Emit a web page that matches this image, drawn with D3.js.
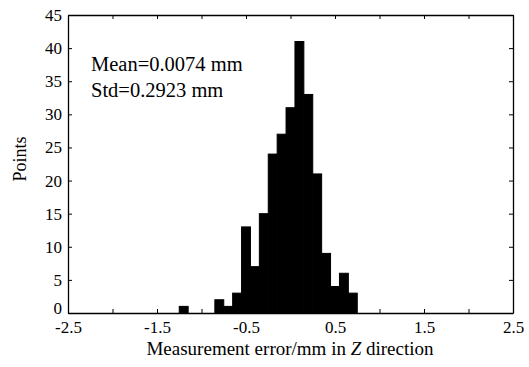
<!DOCTYPE html>
<meta charset="utf-8">
<style>
  body { margin: 0; background: #fff; }
  text { font-family: "Liberation Serif", "Times New Roman", serif; fill: #000; }
</style>
<svg id="chart" width="529" height="367"></svg>
<script src="https://cdn.jsdelivr.net/npm/d3@7/dist/d3.min.js"></script>
<script>

// histogram bins (center of bin, mm) and counts
var binCenters = [-1.2, -0.8, -0.7, -0.6, -0.5, -0.4, -0.3, -0.2, -0.1, 0.0, 0.1, 0.2, 0.3, 0.4, 0.5, 0.6, 0.7];
var counts     = [1, 2, 1, 3, 13, 7, 15, 24, 27, 31, 41, 33, 21, 9, 4, 6, 3];
var binWidth = 0.1;

var xTicks = [-2.5, -2, -1.5, -1, -0.5, 0, 0.5, 1, 1.5, 2, 2.5];
var xTickLabels = [-2.5, -1.5, -0.5, 0.5, 1.5, 2.5];
var yTicks = [0, 5, 10, 15, 20, 25, 30, 35, 40, 45];
var stats = ["Mean=0.0074 mm", "Std=0.2923 mm"];

var svg = d3.select("#chart");
var mLeft = 68, mRight = 513, mTop = 15, mBottom = 313;

var x = d3.scaleLinear().domain([-2.5, 2.5]).range([mLeft, mRight]);
var y = d3.scaleLinear().domain([0, 45]).range([mBottom, mTop]);

var bins = binCenters.map(function(c, i){ return {c: c, n: counts[i]}; });

svg.append("g").selectAll("rect")
  .data(bins)
  .enter().append("rect")
  .attr("x", function(d){ return x(d.c - binWidth/2); })
  .attr("width", function(d){ return x(d.c + binWidth/2) - x(d.c - binWidth/2); })
  .attr("y", function(d){ return y(d.n); })
  .attr("height", function(d){ return y(0) - y(d.n); })
  .attr("fill", "#000")
  .attr("stroke", "#000")
  .attr("stroke-width", 1);

// frame with inward ticks
var fmt = function(d){ return xTickLabels.indexOf(d) >= 0 ? d.toFixed(1) : ""; };

svg.append("g")
  .attr("transform", "translate(0," + mBottom + ")")
  .call(d3.axisBottom(x).tickValues(xTicks).tickSizeInner(-4).tickSizeOuter(0).tickPadding(7).tickFormat(fmt))
  .call(function(g){
    g.selectAll("text").attr("dy", "0.75em");
  });

svg.append("g")
  .attr("transform", "translate(0," + mTop + ")")
  .call(d3.axisTop(x).tickValues(xTicks).tickSizeInner(-4).tickSizeOuter(0).tickFormat(""));

svg.append("g")
  .attr("transform", "translate(" + mLeft + ",0)")
  .call(d3.axisLeft(y).tickValues(yTicks).tickSizeInner(-4).tickSizeOuter(0).tickPadding(6))
  .call(function(g){
    g.selectAll("text").filter(function(d){ return d === 0; }).attr("dy", "0.05em");
  });

svg.append("g")
  .attr("transform", "translate(" + mRight + ",0)")
  .call(d3.axisRight(y).tickValues(yTicks).tickSizeInner(-4).tickSizeOuter(0).tickFormat(""));

svg.selectAll("g").attr("font-family", null);
svg.selectAll(".domain").attr("stroke", "#000").attr("stroke-width", 1.3);
svg.selectAll(".tick line").attr("stroke", "#000");
svg.selectAll(".tick text").attr("font-size", 17).attr("fill", "#000");

// annotation
svg.append("g").selectAll("text")
  .data(stats)
  .enter().append("text")
  .attr("x", 91)
  .attr("y", function(d, i){ return 71 + i * 26; })
  .attr("font-size", 20.5)
  .text(function(d){ return d; });

// axis titles
svg.append("text")
  .attr("transform", "translate(26,159) rotate(-90)")
  .attr("text-anchor", "middle")
  .attr("font-size", 18)
  .text("Points");

var xl = svg.append("text")
  .attr("x", 290)
  .attr("y", 355)
  .attr("text-anchor", "middle")
  .attr("font-size", 19);
xl.append("tspan").text("Measurement error/mm in ");
xl.append("tspan").attr("font-style", "italic").text("Z");
xl.append("tspan").text(" direction");

</script>
